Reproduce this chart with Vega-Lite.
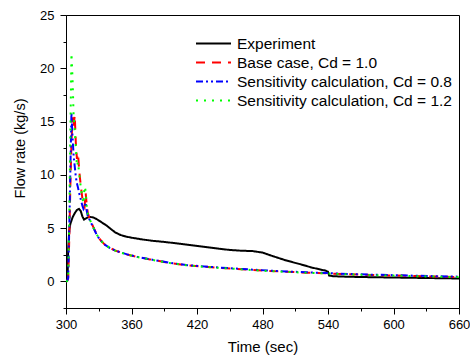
{
  "$schema": "https://vega.github.io/schema/vega-lite/v6.json",
  "width": 393,
  "height": 293,
  "autosize": {"type": "none"},
  "padding": {"left": 66, "top": 15, "right": 11, "bottom": 48},
  "background": "white",
  "config": {
    "view": {"stroke": "black", "strokeWidth": 1},
    "font": "Liberation Sans",
    "axis": {
      "grid": false,
      "domainColor": "black",
      "tickColor": "black",
      "labelColor": "black",
      "titleColor": "black",
      "labelFontSize": 13,
      "titleFontWeight": "normal",
      "labelFlush": false,
      "labelOverlap": false,
      "labelBound": false
    }
  },
  "data": {
    "values": [
      {"t": 300, "v": 0, "s": "Experiment"},
      {"t": 301, "v": 0.05, "s": "Experiment"},
      {"t": 301.5, "v": 0.6, "s": "Experiment"},
      {"t": 302, "v": 3.0, "s": "Experiment"},
      {"t": 303, "v": 4.8, "s": "Experiment"},
      {"t": 304, "v": 5.4, "s": "Experiment"},
      {"t": 306, "v": 6.0, "s": "Experiment"},
      {"t": 308, "v": 6.4, "s": "Experiment"},
      {"t": 310, "v": 6.7, "s": "Experiment"},
      {"t": 312, "v": 6.8, "s": "Experiment"},
      {"t": 313.5, "v": 6.6, "s": "Experiment"},
      {"t": 315, "v": 6.1, "s": "Experiment"},
      {"t": 316.5, "v": 5.8, "s": "Experiment"},
      {"t": 318, "v": 5.9, "s": "Experiment"},
      {"t": 320, "v": 6.0, "s": "Experiment"},
      {"t": 322, "v": 6.05, "s": "Experiment"},
      {"t": 325, "v": 6.0, "s": "Experiment"},
      {"t": 328, "v": 5.85, "s": "Experiment"},
      {"t": 331, "v": 5.65, "s": "Experiment"},
      {"t": 334, "v": 5.45, "s": "Experiment"},
      {"t": 337, "v": 5.25, "s": "Experiment"},
      {"t": 340, "v": 5.0, "s": "Experiment"},
      {"t": 345, "v": 4.6, "s": "Experiment"},
      {"t": 350, "v": 4.35, "s": "Experiment"},
      {"t": 355, "v": 4.2, "s": "Experiment"},
      {"t": 360, "v": 4.1, "s": "Experiment"},
      {"t": 370, "v": 3.93, "s": "Experiment"},
      {"t": 380, "v": 3.8, "s": "Experiment"},
      {"t": 392, "v": 3.68, "s": "Experiment"},
      {"t": 405, "v": 3.52, "s": "Experiment"},
      {"t": 422, "v": 3.3, "s": "Experiment"},
      {"t": 441, "v": 3.05, "s": "Experiment"},
      {"t": 450, "v": 2.95, "s": "Experiment"},
      {"t": 460, "v": 2.88, "s": "Experiment"},
      {"t": 471, "v": 2.84, "s": "Experiment"},
      {"t": 480, "v": 2.7, "s": "Experiment"},
      {"t": 490, "v": 2.35, "s": "Experiment"},
      {"t": 502, "v": 1.95, "s": "Experiment"},
      {"t": 515, "v": 1.6, "s": "Experiment"},
      {"t": 525, "v": 1.3, "s": "Experiment"},
      {"t": 538, "v": 1.0, "s": "Experiment"},
      {"t": 540, "v": 0.9, "s": "Experiment"},
      {"t": 541, "v": 0.55, "s": "Experiment"},
      {"t": 545, "v": 0.48, "s": "Experiment"},
      {"t": 560, "v": 0.43, "s": "Experiment"},
      {"t": 580, "v": 0.39, "s": "Experiment"},
      {"t": 600, "v": 0.36, "s": "Experiment"},
      {"t": 620, "v": 0.33, "s": "Experiment"},
      {"t": 640, "v": 0.3, "s": "Experiment"},
      {"t": 660, "v": 0.27, "s": "Experiment"},

      {"t": 300, "v": 0, "s": "Base case, Cd = 1.0"},
      {"t": 301, "v": 0.02, "s": "Base case, Cd = 1.0"},
      {"t": 302, "v": 0.3, "s": "Base case, Cd = 1.0"},
      {"t": 303, "v": 4.0, "s": "Base case, Cd = 1.0"},
      {"t": 304, "v": 9.0, "s": "Base case, Cd = 1.0"},
      {"t": 305, "v": 13.0, "s": "Base case, Cd = 1.0"},
      {"t": 306, "v": 15.4, "s": "Base case, Cd = 1.0"},
      {"t": 307, "v": 14.5, "s": "Base case, Cd = 1.0"},
      {"t": 308, "v": 15.6, "s": "Base case, Cd = 1.0"},
      {"t": 309, "v": 13.0, "s": "Base case, Cd = 1.0"},
      {"t": 310, "v": 11.5, "s": "Base case, Cd = 1.0"},
      {"t": 311, "v": 12.0, "s": "Base case, Cd = 1.0"},
      {"t": 312, "v": 10.5, "s": "Base case, Cd = 1.0"},
      {"t": 313, "v": 9.5, "s": "Base case, Cd = 1.0"},
      {"t": 314, "v": 8.6, "s": "Base case, Cd = 1.0"},
      {"t": 315, "v": 7.8, "s": "Base case, Cd = 1.0"},
      {"t": 316, "v": 7.2, "s": "Base case, Cd = 1.0"},
      {"t": 317, "v": 7.0, "s": "Base case, Cd = 1.0"},
      {"t": 318, "v": 8.3, "s": "Base case, Cd = 1.0"},
      {"t": 319, "v": 7.2, "s": "Base case, Cd = 1.0"},
      {"t": 320, "v": 6.4, "s": "Base case, Cd = 1.0"},
      {"t": 322, "v": 5.8, "s": "Base case, Cd = 1.0"},
      {"t": 325, "v": 5.1, "s": "Base case, Cd = 1.0"},
      {"t": 328, "v": 4.45, "s": "Base case, Cd = 1.0"},
      {"t": 331, "v": 3.95, "s": "Base case, Cd = 1.0"},
      {"t": 335, "v": 3.5, "s": "Base case, Cd = 1.0"},
      {"t": 340, "v": 3.15, "s": "Base case, Cd = 1.0"},
      {"t": 345, "v": 2.9, "s": "Base case, Cd = 1.0"},
      {"t": 350, "v": 2.72, "s": "Base case, Cd = 1.0"},
      {"t": 356, "v": 2.52, "s": "Base case, Cd = 1.0"},
      {"t": 365, "v": 2.3, "s": "Base case, Cd = 1.0"},
      {"t": 377, "v": 2.06, "s": "Base case, Cd = 1.0"},
      {"t": 390, "v": 1.82, "s": "Base case, Cd = 1.0"},
      {"t": 398, "v": 1.68, "s": "Base case, Cd = 1.0"},
      {"t": 410, "v": 1.52, "s": "Base case, Cd = 1.0"},
      {"t": 423, "v": 1.4, "s": "Base case, Cd = 1.0"},
      {"t": 440, "v": 1.28, "s": "Base case, Cd = 1.0"},
      {"t": 455, "v": 1.18, "s": "Base case, Cd = 1.0"},
      {"t": 471, "v": 1.07, "s": "Base case, Cd = 1.0"},
      {"t": 486, "v": 0.98, "s": "Base case, Cd = 1.0"},
      {"t": 502, "v": 0.9, "s": "Base case, Cd = 1.0"},
      {"t": 520, "v": 0.82, "s": "Base case, Cd = 1.0"},
      {"t": 539, "v": 0.75, "s": "Base case, Cd = 1.0"},
      {"t": 545, "v": 0.72, "s": "Base case, Cd = 1.0"},
      {"t": 560, "v": 0.66, "s": "Base case, Cd = 1.0"},
      {"t": 580, "v": 0.6, "s": "Base case, Cd = 1.0"},
      {"t": 600, "v": 0.55, "s": "Base case, Cd = 1.0"},
      {"t": 620, "v": 0.5, "s": "Base case, Cd = 1.0"},
      {"t": 640, "v": 0.45, "s": "Base case, Cd = 1.0"},
      {"t": 660, "v": 0.41, "s": "Base case, Cd = 1.0"},

      {"t": 300, "v": 0, "s": "Sensitivity calculation, Cd = 0.8"},
      {"t": 301, "v": 0.02, "s": "Sensitivity calculation, Cd = 0.8"},
      {"t": 302, "v": 0.3, "s": "Sensitivity calculation, Cd = 0.8"},
      {"t": 303, "v": 5.0, "s": "Sensitivity calculation, Cd = 0.8"},
      {"t": 304, "v": 10.5, "s": "Sensitivity calculation, Cd = 0.8"},
      {"t": 305, "v": 15.8, "s": "Sensitivity calculation, Cd = 0.8"},
      {"t": 306, "v": 13.5, "s": "Sensitivity calculation, Cd = 0.8"},
      {"t": 307, "v": 11.8, "s": "Sensitivity calculation, Cd = 0.8"},
      {"t": 308, "v": 10.8, "s": "Sensitivity calculation, Cd = 0.8"},
      {"t": 309, "v": 9.8, "s": "Sensitivity calculation, Cd = 0.8"},
      {"t": 310, "v": 9.2, "s": "Sensitivity calculation, Cd = 0.8"},
      {"t": 311, "v": 8.8, "s": "Sensitivity calculation, Cd = 0.8"},
      {"t": 312, "v": 8.3, "s": "Sensitivity calculation, Cd = 0.8"},
      {"t": 313, "v": 7.9, "s": "Sensitivity calculation, Cd = 0.8"},
      {"t": 314, "v": 7.5, "s": "Sensitivity calculation, Cd = 0.8"},
      {"t": 315, "v": 7.1, "s": "Sensitivity calculation, Cd = 0.8"},
      {"t": 316, "v": 6.8, "s": "Sensitivity calculation, Cd = 0.8"},
      {"t": 317, "v": 7.0, "s": "Sensitivity calculation, Cd = 0.8"},
      {"t": 318, "v": 7.4, "s": "Sensitivity calculation, Cd = 0.8"},
      {"t": 319, "v": 6.6, "s": "Sensitivity calculation, Cd = 0.8"},
      {"t": 320, "v": 6.1, "s": "Sensitivity calculation, Cd = 0.8"},
      {"t": 322, "v": 5.7, "s": "Sensitivity calculation, Cd = 0.8"},
      {"t": 325, "v": 5.05, "s": "Sensitivity calculation, Cd = 0.8"},
      {"t": 328, "v": 4.4, "s": "Sensitivity calculation, Cd = 0.8"},
      {"t": 331, "v": 3.92, "s": "Sensitivity calculation, Cd = 0.8"},
      {"t": 335, "v": 3.48, "s": "Sensitivity calculation, Cd = 0.8"},
      {"t": 340, "v": 3.14, "s": "Sensitivity calculation, Cd = 0.8"},
      {"t": 345, "v": 2.9, "s": "Sensitivity calculation, Cd = 0.8"},
      {"t": 350, "v": 2.72, "s": "Sensitivity calculation, Cd = 0.8"},
      {"t": 356, "v": 2.53, "s": "Sensitivity calculation, Cd = 0.8"},
      {"t": 365, "v": 2.31, "s": "Sensitivity calculation, Cd = 0.8"},
      {"t": 377, "v": 2.07, "s": "Sensitivity calculation, Cd = 0.8"},
      {"t": 390, "v": 1.84, "s": "Sensitivity calculation, Cd = 0.8"},
      {"t": 398, "v": 1.7, "s": "Sensitivity calculation, Cd = 0.8"},
      {"t": 410, "v": 1.54, "s": "Sensitivity calculation, Cd = 0.8"},
      {"t": 423, "v": 1.42, "s": "Sensitivity calculation, Cd = 0.8"},
      {"t": 440, "v": 1.3, "s": "Sensitivity calculation, Cd = 0.8"},
      {"t": 455, "v": 1.2, "s": "Sensitivity calculation, Cd = 0.8"},
      {"t": 471, "v": 1.1, "s": "Sensitivity calculation, Cd = 0.8"},
      {"t": 486, "v": 1.01, "s": "Sensitivity calculation, Cd = 0.8"},
      {"t": 502, "v": 0.93, "s": "Sensitivity calculation, Cd = 0.8"},
      {"t": 520, "v": 0.85, "s": "Sensitivity calculation, Cd = 0.8"},
      {"t": 539, "v": 0.78, "s": "Sensitivity calculation, Cd = 0.8"},
      {"t": 545, "v": 0.75, "s": "Sensitivity calculation, Cd = 0.8"},
      {"t": 560, "v": 0.69, "s": "Sensitivity calculation, Cd = 0.8"},
      {"t": 580, "v": 0.63, "s": "Sensitivity calculation, Cd = 0.8"},
      {"t": 600, "v": 0.58, "s": "Sensitivity calculation, Cd = 0.8"},
      {"t": 620, "v": 0.53, "s": "Sensitivity calculation, Cd = 0.8"},
      {"t": 640, "v": 0.48, "s": "Sensitivity calculation, Cd = 0.8"},
      {"t": 660, "v": 0.44, "s": "Sensitivity calculation, Cd = 0.8"},

      {"t": 300, "v": 0, "s": "Sensitivity calculation, Cd = 1.2"},
      {"t": 301, "v": 0.02, "s": "Sensitivity calculation, Cd = 1.2"},
      {"t": 302, "v": 0.3, "s": "Sensitivity calculation, Cd = 1.2"},
      {"t": 303, "v": 6.0, "s": "Sensitivity calculation, Cd = 1.2"},
      {"t": 304, "v": 14.0, "s": "Sensitivity calculation, Cd = 1.2"},
      {"t": 305, "v": 21.4, "s": "Sensitivity calculation, Cd = 1.2"},
      {"t": 306, "v": 19.0, "s": "Sensitivity calculation, Cd = 1.2"},
      {"t": 307, "v": 15.5, "s": "Sensitivity calculation, Cd = 1.2"},
      {"t": 308, "v": 14.2, "s": "Sensitivity calculation, Cd = 1.2"},
      {"t": 309, "v": 12.5, "s": "Sensitivity calculation, Cd = 1.2"},
      {"t": 310, "v": 10.8, "s": "Sensitivity calculation, Cd = 1.2"},
      {"t": 311, "v": 11.2, "s": "Sensitivity calculation, Cd = 1.2"},
      {"t": 312, "v": 10.2, "s": "Sensitivity calculation, Cd = 1.2"},
      {"t": 313, "v": 9.3, "s": "Sensitivity calculation, Cd = 1.2"},
      {"t": 314, "v": 8.5, "s": "Sensitivity calculation, Cd = 1.2"},
      {"t": 315, "v": 7.8, "s": "Sensitivity calculation, Cd = 1.2"},
      {"t": 316, "v": 7.3, "s": "Sensitivity calculation, Cd = 1.2"},
      {"t": 317, "v": 8.9, "s": "Sensitivity calculation, Cd = 1.2"},
      {"t": 318, "v": 8.5, "s": "Sensitivity calculation, Cd = 1.2"},
      {"t": 319, "v": 7.0, "s": "Sensitivity calculation, Cd = 1.2"},
      {"t": 320, "v": 6.3, "s": "Sensitivity calculation, Cd = 1.2"},
      {"t": 322, "v": 5.75, "s": "Sensitivity calculation, Cd = 1.2"},
      {"t": 325, "v": 5.08, "s": "Sensitivity calculation, Cd = 1.2"},
      {"t": 328, "v": 4.43, "s": "Sensitivity calculation, Cd = 1.2"},
      {"t": 331, "v": 3.93, "s": "Sensitivity calculation, Cd = 1.2"},
      {"t": 335, "v": 3.49, "s": "Sensitivity calculation, Cd = 1.2"},
      {"t": 340, "v": 3.14, "s": "Sensitivity calculation, Cd = 1.2"},
      {"t": 345, "v": 2.89, "s": "Sensitivity calculation, Cd = 1.2"},
      {"t": 350, "v": 2.71, "s": "Sensitivity calculation, Cd = 1.2"},
      {"t": 356, "v": 2.51, "s": "Sensitivity calculation, Cd = 1.2"},
      {"t": 365, "v": 2.29, "s": "Sensitivity calculation, Cd = 1.2"},
      {"t": 377, "v": 2.05, "s": "Sensitivity calculation, Cd = 1.2"},
      {"t": 390, "v": 1.81, "s": "Sensitivity calculation, Cd = 1.2"},
      {"t": 398, "v": 1.67, "s": "Sensitivity calculation, Cd = 1.2"},
      {"t": 410, "v": 1.51, "s": "Sensitivity calculation, Cd = 1.2"},
      {"t": 423, "v": 1.39, "s": "Sensitivity calculation, Cd = 1.2"},
      {"t": 440, "v": 1.27, "s": "Sensitivity calculation, Cd = 1.2"},
      {"t": 455, "v": 1.17, "s": "Sensitivity calculation, Cd = 1.2"},
      {"t": 471, "v": 1.06, "s": "Sensitivity calculation, Cd = 1.2"},
      {"t": 486, "v": 0.97, "s": "Sensitivity calculation, Cd = 1.2"},
      {"t": 502, "v": 0.89, "s": "Sensitivity calculation, Cd = 1.2"},
      {"t": 520, "v": 0.81, "s": "Sensitivity calculation, Cd = 1.2"},
      {"t": 539, "v": 0.74, "s": "Sensitivity calculation, Cd = 1.2"},
      {"t": 545, "v": 0.71, "s": "Sensitivity calculation, Cd = 1.2"},
      {"t": 560, "v": 0.65, "s": "Sensitivity calculation, Cd = 1.2"},
      {"t": 580, "v": 0.59, "s": "Sensitivity calculation, Cd = 1.2"},
      {"t": 600, "v": 0.54, "s": "Sensitivity calculation, Cd = 1.2"},
      {"t": 620, "v": 0.49, "s": "Sensitivity calculation, Cd = 1.2"},
      {"t": 640, "v": 0.44, "s": "Sensitivity calculation, Cd = 1.2"},
      {"t": 660, "v": 0.4, "s": "Sensitivity calculation, Cd = 1.2"}
    ]
  },
  "mark": {"type": "line", "strokeWidth": 2, "clip": true},
  "encoding": {
    "x": {
      "field": "t",
      "type": "quantitative",
      "scale": {"domain": [300, 660], "nice": false, "zero": false},
      "axis": {
        "title": "Time (sec)",
        "titleFontSize": 15,
        "titleFontWeight": "normal",
        "titleBaseline": "middle",
        "titleY": 38,
        "values": [300, 330, 360, 390, 420, 450, 480, 510, 540, 570, 600, 630, 660],
        "labelExpr": "datum.value % 60 === 0 ? datum.label : ''",
        "tickSize": {"condition": {"test": "datum.value % 60 === 0", "value": 6}, "value": 3},
        "labelPadding": 4
      }
    },
    "y": {
      "field": "v",
      "type": "quantitative",
      "scale": {"domain": [-2.5, 25], "nice": false, "zero": false},
      "axis": {
        "title": "Flow rate (kg/s)",
        "titleFontSize": 14.5,
        "titleFontWeight": "normal",
        "titleBaseline": "middle",
        "titleX": -46,
        "titleY": 133,
        "values": [-2.5, 0, 2.5, 5, 7.5, 10, 12.5, 15, 17.5, 20, 22.5, 25],
        "labelExpr": "datum.value % 5 === 0 ? datum.label : ''",
        "tickSize": {"condition": {"test": "datum.value % 5 === 0", "value": 6}, "value": 3},
        "labelPadding": 6
      }
    },
    "color": {
      "field": "s",
      "type": "nominal",
      "scale": {
        "domain": ["Experiment", "Base case, Cd = 1.0", "Sensitivity calculation, Cd = 0.8", "Sensitivity calculation, Cd = 1.2"],
        "range": ["#000000", "#ff0000", "#0000ff", "#00ff00"]
      },
      "legend": {
        "title": null,
        "orient": "none",
        "legendX": 129,
        "legendY": 19,
        "padding": 0,
        "symbolType": "stroke",
        "symbolSize": 1225,
        "symbolStrokeWidth": 2,
        "labelFontSize": 15.5,
        "labelColor": "black",
        "labelLimit": 400,
        "labelOffset": 5,
        "clipHeight": 19,
        "rowPadding": 0
      }
    },
    "strokeDash": {
      "field": "s",
      "type": "nominal",
      "scale": {
        "domain": ["Experiment", "Base case, Cd = 1.0", "Sensitivity calculation, Cd = 0.8", "Sensitivity calculation, Cd = 1.2"],
        "range": [[1, 0], [9, 7], [7, 3, 2, 3, 2, 3], [2, 6]]
      },
      "legend": {
        "title": null,
        "orient": "none",
        "legendX": 129,
        "legendY": 19,
        "padding": 0,
        "symbolType": "stroke",
        "symbolSize": 1225,
        "symbolStrokeWidth": 2,
        "labelFontSize": 15.5,
        "labelColor": "black",
        "labelLimit": 400,
        "labelOffset": 5,
        "clipHeight": 19,
        "rowPadding": 0
      }
    }
  }
}
